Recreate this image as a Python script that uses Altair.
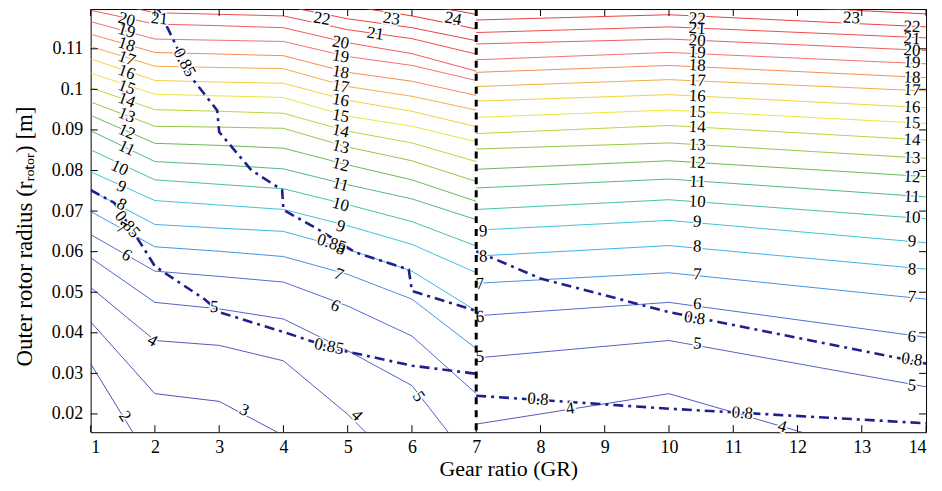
import altair as alt
import pandas as pd

# ---------------- data ----------------
LEVELS = list(range(2, 25))          # contour levels 2..24
GR_LEFT = [1, 2, 3, 4, 5, 6, 7]      # grid of the left regime
GR_RIGHT = [7, 10, 14]               # grid of the right regime

# outer rotor radius [m] of each level (2..24) at each gear ratio, left regime
left_gr1 = [0.0324, 0.0427, 0.0512, 0.0585, 0.0642, 0.0699, 0.0751, 0.0797, 0.0851, 0.0898, 0.0936, 0.0969,
            0.1004, 0.1040, 0.1075, 0.1106, 0.1136, 0.1167, 0.1195, 0.1223, None, None, None]
left_gr2 = [0.0066, 0.0250, 0.0381, 0.0475, 0.0552, 0.0612, 0.0667, 0.0726, 0.0777, 0.0822, 0.0867, 0.0909,
            0.0950, 0.0988, 0.1022, 0.1057, 0.1091, 0.1124, 0.1161, 0.1189, 0.1230, None, None]
left_gr3 = [None, 0.0231, 0.0369, 0.0459, 0.0539, 0.0601, 0.0658, 0.0715, 0.0766, 0.0814, 0.0862, 0.0907,
            0.0946, 0.0984, 0.1018, 0.1054, 0.1087, 0.1121, 0.1157, 0.1185, 0.1218, None, None]
left_gr4 = [None, 0.0147, 0.0331, 0.0434, 0.0525, 0.0588, 0.0650, 0.0704, 0.0755, 0.0804, 0.0855, 0.0904,
            0.0941, 0.0980, 0.1015, 0.1051, 0.1083, 0.1118, 0.1152, 0.1181, 0.1206, 0.1243, None]
left_gr5 = [None, 0.0042, 0.0199, 0.0356, 0.0466, 0.0544, 0.0606, 0.0664, 0.0716, 0.0765, 0.0814, 0.0858,
            0.0897, 0.0934, 0.0973, 0.1007, 0.1042, 0.1081, 0.1115, 0.1147, 0.1174, 0.1206, 0.1255]
left_gr6 = [None, None, 0.0042, 0.0270, 0.0392, 0.0483, 0.0552, 0.0618, 0.0674, 0.0730, 0.0777, 0.0824,
            0.0868, 0.0909, 0.0946, 0.0983, 0.1020, 0.1059, 0.1088, 0.1125, 0.1152, 0.1181, 0.1213]
left_gr7 = [None, None, None, 0.0066, 0.0250, 0.0361, 0.0454, 0.0548, 0.0614, 0.0679, 0.0724, 0.0773,
            0.0822, 0.0871, 0.0908, 0.0949, 0.0985, 0.1022, 0.1045, 0.1087, 0.1120, 0.1149, 0.1185]

# right regime
right_gr7 = [None, None, 0.0175, 0.0338, 0.0442, 0.0522, 0.0589, 0.0653, 0.0704, 0.0757, 0.0803, 0.0853,
             0.0891, 0.0931, 0.0971, 0.1007, 0.1042, 0.1073, 0.1112, 0.1140, 0.1171, 0.1206, None]
right_gr10 = [None, None, 0.0250, 0.0381, 0.0475, 0.0548, 0.0615, 0.0677, 0.0728, 0.0779, 0.0824, 0.0868,
              0.0911, 0.0949, 0.0987, 0.1024, 0.1059, 0.1091, 0.1124, 0.1154, 0.1184, 0.1218, None]
right_gr14 = [None, None, 0.0066, 0.0267, 0.0389, 0.0483, 0.0557, 0.0622, 0.0681, 0.0735, 0.0785, 0.0830,
              0.0875, 0.0916, 0.0955, 0.0996, 0.1029, 0.1063, 0.1096, 0.1127, 0.1154, 0.1186, None]

# efficiency contours (dash-dot)
eff_a_x = [2.02, 2.22, 2.57, 2.97, 3.0, 3.5, 3.98, 4.0, 4.55, 5.12, 5.95, 6.0, 7.0]
eff_a_y = [0.1206, 0.1144, 0.1029, 0.0948, 0.0895, 0.0801, 0.0752, 0.0703, 0.0654, 0.0598, 0.0556, 0.0503, 0.0454]
eff_b_x = [1.0, 1.37, 1.84, 2.0, 2.77, 3.0, 4.0, 4.81, 6.0, 7.0]
eff_b_y = [0.0752, 0.0720, 0.0605, 0.0564, 0.0483, 0.0451, 0.0402, 0.0360, 0.0319, 0.0299]
eff_c_x = [7.0, 8.0, 10.0, 14.0]
eff_c_y = [0.0601, 0.0534, 0.0451, 0.0324]
eff_d_x = [7.0, 10.0, 14.0]
eff_d_y = [0.0245, 0.0213, 0.0177]

# inline contour labels
lab_text = ["20", "19", "18", "17", "16", "15", "14", "13", "12", "11", "10", "9", "8", "7", "6", "4", "2", "3", "5", "21",
            "20", "19", "18", "17", "16", "15", "14", "13", "12", "11", "10", "9", "8", "7", "6", "4", "5", "22", "23", "24", "21",
            "9", "8", "7", "6", "5",
            "22", "21", "20", "19", "18", "17", "16", "15", "14", "13", "12", "11", "10", "9", "8", "7", "6", "5", "4", "4",
            "23", "22", "21", "20", "19", "18", "17", "16", "15", "14", "13", "12", "11", "10", "9", "8", "7", "6", "5",
            "0.85", "0.85", "0.85", "0.85", "0.8", "0.8", "0.8", "0.8"]
lab_x = [1.56, 1.56, 1.56, 1.56, 1.56, 1.56, 1.56, 1.56, 1.56, 1.56, 1.45, 1.48, 1.48, 1.48, 1.56, 1.96, 1.53, 3.39, 2.92, 2.07,
         4.89, 4.89, 4.89, 4.89, 4.89, 4.89, 4.89, 4.89, 4.89, 4.89, 4.89, 4.89, 4.89, 4.86, 4.81, 5.14, 6.10, 4.60, 5.68, 6.64, 5.43,
         7.11, 7.11, 7.06, 7.06, 7.06,
         10.44, 10.44, 10.44, 10.44, 10.44, 10.44, 10.44, 10.44, 10.44, 10.44, 10.44, 10.44, 10.44, 10.44, 10.44, 10.44, 10.44, 10.44, 8.46, 11.76,
         12.84, 13.78, 13.78, 13.78, 13.78, 13.78, 13.78, 13.78, 13.78, 13.78, 13.78, 13.78, 13.78, 13.78, 13.78, 13.78, 13.78, 13.78, 13.78,
         2.46, 1.57, 4.75, 4.71, 10.40, 13.78, 7.96, 11.14]
lab_y = [0.1172, 0.1144, 0.1110, 0.1076, 0.1042, 0.1005, 0.0973, 0.0936, 0.0895, 0.0855, 0.0806, 0.0760, 0.0716, 0.0659, 0.0591, 0.0380, 0.0194, 0.0209, 0.0463, 0.1174,
         0.1115, 0.1081, 0.1042, 0.1007, 0.0973, 0.0934, 0.0897, 0.0858, 0.0814, 0.0765, 0.0716, 0.0662, 0.0606, 0.0544, 0.0466, 0.0196, 0.0243, 0.1174, 0.1174, 0.1174, 0.1137,
         0.0650, 0.0588, 0.0520, 0.0439, 0.0341,
         0.1174, 0.1150, 0.1120, 0.1091, 0.1059, 0.1022, 0.0983, 0.0944, 0.0907, 0.0863, 0.0819, 0.0772, 0.0723, 0.0674, 0.0613, 0.0544, 0.0471, 0.0373, 0.0213, 0.0169,
         0.1176, 0.1154, 0.1125, 0.1096, 0.1066, 0.1029, 0.0998, 0.0956, 0.0917, 0.0875, 0.0831, 0.0784, 0.0735, 0.0684, 0.0625, 0.0556, 0.0488, 0.0390, 0.0270,
         0.1066, 0.0667, 0.0620, 0.0366, 0.0436, 0.0334, 0.0236, 0.0202]
lab_angle = [15, 17, 18, 20, 20, 20, 20, 22, 24, 25, 25, 25, 28, 30, 30, 30, 55, 25, 5, 5,
             10, 10, 10, 10, 10, 10, 12, 14, 14, 14, 15, 17, 20, 22, 25, 45, 55, 10, 8, 10, 8,
             -3, -3, -3, -3, -3,
             3, 3, 3, 3, 3, 3, 3, 3, 3, 3, 3, 3, 3, 3, 3, 3, 4, 5, -9, 16,
             3, 3, 3, 3, 3, 3, 3, 3, 3, 3, 3, 3, 3, 3, 3, 3, 3, 4, 5,
             62, 50, 18, 12, 8, 8, 4, 5]

X_TICKS = list(range(1, 15))
Y_TICKS = [0.02, 0.03, 0.04, 0.05, 0.06, 0.07, 0.08, 0.09, 0.1, 0.11]

LEVEL_COLORS = ["#3c3ca8", "#3e40b0", "#4046b8", "#4050c0", "#3c5ccc", "#2f86dc", "#2aa8e6",
                "#2cbcd8", "#34b8a4", "#40b070", "#5cb044", "#8cc034", "#b4d028", "#e6e224",
                "#f2cc2a", "#f2a234", "#f2803e", "#f06262", "#ee4a4a", "#ea3a3a", "#e82c2c",
                "#e42020", "#dc1616"]

# ---------------- tables ----------------
rows = []
for o, (gx, col) in enumerate(zip(GR_LEFT, [left_gr1, left_gr2, left_gr3, left_gr4, left_gr5, left_gr6, left_gr7])):
    for lev, v in zip(LEVELS, col):
        if v is not None:
            rows.append({"level": lev, "seg": f"L{lev}", "x": gx, "y": v, "o": o})
for o, (gx, col) in enumerate(zip(GR_RIGHT, [right_gr7, right_gr10, right_gr14])):
    for lev, v in zip(LEVELS, col):
        if v is not None:
            rows.append({"level": lev, "seg": f"R{lev}", "x": gx, "y": v, "o": o})
contours = pd.DataFrame(rows)

erows = []
for name, xs_, ys_ in [("a", eff_a_x, eff_a_y), ("b", eff_b_x, eff_b_y), ("c", eff_c_x, eff_c_y), ("d", eff_d_x, eff_d_y)]:
    for o, (xv, yv) in enumerate(zip(xs_, ys_)):
        erows.append({"name": name, "x": xv, "y": yv, "o": o})
eff = pd.DataFrame(erows)

labels = pd.DataFrame({"text": lab_text, "x": lab_x, "y": lab_y,
                       "angle": [a % 360 for a in lab_angle]})

W, H = 839, 425
FONT = "Liberation Serif"
xs = alt.Scale(domain=[1, 14], nice=False, zero=False)
ys = alt.Scale(domain=[0.0155, 0.1198], nice=False, zero=False)
x_axis = alt.Axis(values=X_TICKS, title="Gear ratio (GR)", grid=False, domain=False, ticks=False,
                  labelPadding=6, labelFontSize=18, titleFontSize=22, titleY=26, titleBaseline="top",
                  labelFont=FONT, titleFont=FONT, titleFontWeight="normal",
                  labelColor="black", titleColor="black")
y_axis = alt.Axis(values=Y_TICKS, format="~g", title="Outer rotor radius (rᵣₒₜₒᵣ) [m]", grid=False,
                  domain=False, ticks=False, labelPadding=8, labelFontSize=18, titleFontSize=23,
                  titleX=-66, titleY=228, titleBaseline="middle", labelFont=FONT, titleFont=FONT,
                  titleFontWeight="normal", labelColor="black", titleColor="black")


def X(f="x"):
    return alt.X(f"{f}:Q", scale=xs, axis=x_axis)


def Y(f="y"):
    return alt.Y(f"{f}:Q", scale=ys, axis=y_axis)


lines = alt.Chart(contours).mark_line(clip=True, strokeWidth=0.9).encode(
    x=X(), y=Y(),
    color=alt.Color("level:O", scale=alt.Scale(domain=LEVELS, range=LEVEL_COLORS), legend=None),
    detail="seg:N", order="o:Q")

eff_lines = alt.Chart(eff).mark_line(clip=True, color="#20208c", strokeWidth=2.6,
                                     strokeDash=[10, 5, 3, 5]).encode(
    x=X(), y=Y(), detail="name:N", order="o:Q")

halo = alt.Chart(labels).mark_text(font=FONT, fontSize=17, fill="white", stroke="white",
                                   strokeWidth=3).encode(
    x=X(), y=Y(), text="text:N", angle=alt.Angle("angle:Q", scale=None))
text = alt.Chart(labels).mark_text(font=FONT, fontSize=17, color="black").encode(
    x=X(), y=Y(), text="text:N", angle=alt.Angle("angle:Q", scale=None))

boundary = alt.Chart(pd.DataFrame({"x": [7]})).mark_rule(color="black", strokeWidth=3,
                                                         strokeDash=[7, 6]).encode(x=X())

ytick_df = pd.DataFrame({"y": Y_TICKS})
xtick_df = pd.DataFrame({"x": X_TICKS})
yt_left = alt.Chart(ytick_df).mark_rule(color="black", strokeWidth=1).encode(
    y=Y(), x=alt.value(0), x2=alt.value(7))
yt_right = alt.Chart(ytick_df).mark_rule(color="black", strokeWidth=1).encode(
    y=Y(), x=alt.value(W - 7), x2=alt.value(W))
xt_bot = alt.Chart(xtick_df).mark_rule(color="black", strokeWidth=1).encode(
    x=X(), y=alt.value(H - 7), y2=alt.value(H))
xt_top = alt.Chart(xtick_df).mark_rule(color="black", strokeWidth=1).encode(
    x=X(), y=alt.value(0), y2=alt.value(7))

chart = alt.layer(lines, eff_lines, halo, text, boundary, yt_left, yt_right, xt_bot, xt_top).properties(
    width=W, height=H,
    autosize=alt.AutoSizeParams(type="none"),
    padding={"left": 83, "top": 0, "right": 8, "bottom": 58},
    background="white",
).configure_view(stroke="black", strokeWidth=1)

chart.save("out.html", embed_options={"renderer": "svg", "actions": False})
